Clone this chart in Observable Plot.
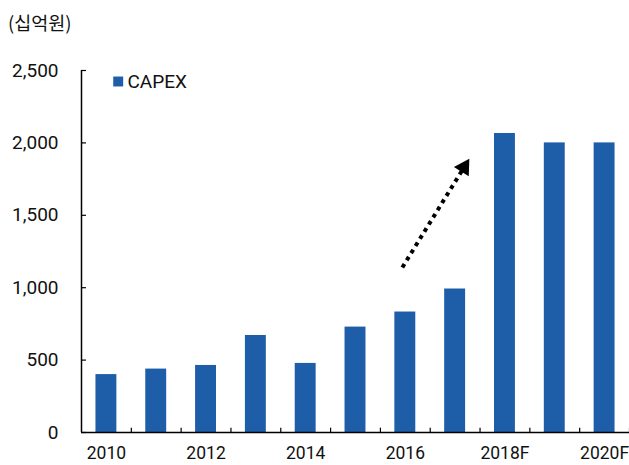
<!DOCTYPE html>
<html><head><meta charset="utf-8">
<script src="https://cdn.jsdelivr.net/npm/d3@7"></script>
<script src="https://cdn.jsdelivr.net/npm/@observablehq/plot@0.6"></script>
<style>
body{margin:0;background:#fff;}
#unit{height:44px;line-height:44px;padding-left:8px;font-size:18.5px;font-family:"Noto Sans CJK KR",sans-serif;color:#111}
</style></head><body>
<div id="unit">(십억원)</div>
<div id="chart"></div>
<script>
const years = ["2010","2011","2012","2013","2014","2015","2016","2017","2018F","2019F","2020F"];
const capex = [400,438,463,670,477,728,832,991,2065,2000,2000];
const yTicks = [0,500,1000,1500,2000,2500];
const xLabelYears = ["2010","2012","2014","2016","2018F","2020F"];
const seriesName = "CAPEX";
// annotation arrow: [position index, value]
const arrowFrom = [6.44, 1140];
const arrowTo = [7.678, 1831];

const color = "#1e5ea8";
const font = "Roboto, 'Noto Sans CJK KR', sans-serif";
const data = years.map((y, i) => ({year: y, i, value: capex[i]}));
const boundaries = d3.range(1, years.length + 1);

const chart = Plot.plot({
  width: 629,
  height: 421,
  marginLeft: 81,
  marginRight: 0,
  marginTop: 26,
  marginBottom: 33,
  style: {fontFamily: font, fontSize: "19px", color: "#111", background: "#fff", overflow: "visible"},
  x: {type: "linear", domain: [0, years.length]},
  y: {domain: [0, 2500]},
  marks: [
    Plot.rectY(data, {x1: d => d.i + 0.29, x2: d => d.i + 0.71, y1: 0, y2: "value", fill: color}),
    Plot.ruleY([0], {stroke: "#000", strokeWidth: 1.5}),
    Plot.ruleX([0], {y1: 0, y2: 2500, stroke: "#000", strokeWidth: 1.5}),
    Plot.ruleX(boundaries, {x: d => d, y1: 0, y2: 30, stroke: "#000", strokeWidth: 1.2}),
    Plot.ruleY(yTicks, {y: d => d, x1: 0, x2: 0.1, stroke: "#000", strokeWidth: 1.2}),
    Plot.axisY({ticks: yTicks, tickSize: 0, tickPadding: 23, tickFormat: d3.format(","), label: null, fontSize: 19}),
    Plot.axisX({ticks: xLabelYears.map(y => years.indexOf(y) + 0.5), tickSize: 0, tickPadding: 14,
      tickFormat: v => years[Math.floor(v)], label: null, fontSize: 17.5}),
    Plot.dot([seriesName], {frameAnchor: "top-left", dx: 36.7, dy: 11, symbol: "square", r: 5.6, fill: color, stroke: null}),
    Plot.text([seriesName], {frameAnchor: "top-left", dx: 46, dy: 11, text: d => d, textAnchor: "start", lineAnchor: "middle", fontSize: 19}),
    Plot.link([{from: arrowFrom, to: arrowTo}], {x1: d => d.from[0], y1: d => d.from[1], x2: d => d.to[0], y2: d => d.to[1],
      stroke: "#000", strokeWidth: 4, strokeDasharray: "4,4.4"}),
    Plot.dot([arrowTo], {x: d => d[0], y: d => d[1], symbol: "triangle", r: 6.5, rotate: 32, fill: "#000", stroke: null})
  ]
});
document.getElementById("chart").appendChild(chart);
</script>
</body></html>
